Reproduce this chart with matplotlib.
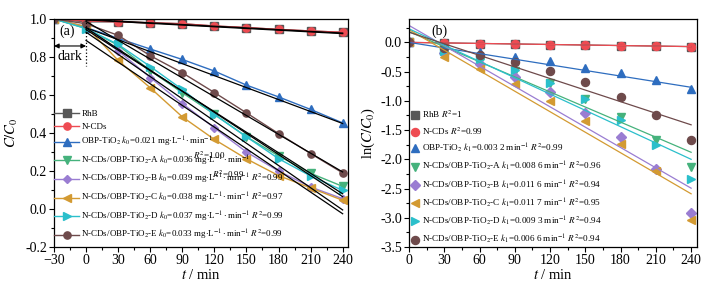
import numpy as np
import matplotlib.pyplot as plt
from matplotlib.ticker import MultipleLocator

plt.rcParams['font.family'] = ['Liberation Serif', 'DejaVu Serif']
plt.rcParams['mathtext.fontset'] = 'stix'

# ---- data ----
t_a = [-30, 0, 30, 60, 90, 120, 150, 180, 210, 240]
t_b = [0, 30, 60, 90, 120, 150, 180, 210, 240]

colors = ['#575757', '#EE4B52', '#2E6DBF', '#45B27C', '#9A7DD2', '#D39A32', '#2BBFCB', '#6E4A4B']
markers = ['s', 'o', '^', 'v', 'D', '<', '>', 'o']

# C/C0 (panel a)
rhb_a = [1.0, 0.985, 0.985, 0.98, 0.975, 0.963, 0.955, 0.945, 0.937, 0.93]
ncd_a = [1.0, 0.99, 0.985, 0.98, 0.975, 0.963, 0.955, 0.945, 0.937, 0.93]
obp_a = [1.0, 0.955, 0.898, 0.842, 0.787, 0.726, 0.652, 0.59, 0.524, 0.453]
A_a = [1.0, 0.95, 0.862, 0.728, 0.612, 0.499, 0.38, 0.28, 0.188, 0.119]
B_a = [1.0, 0.96, 0.833, 0.692, 0.555, 0.427, 0.30, 0.20, 0.116, 0.054]
C_a = [1.0, 0.96, 0.782, 0.638, 0.485, 0.366, 0.264, 0.176, 0.111, 0.046]
D_a = [1.0, 0.95, 0.866, 0.75, 0.629, 0.497, 0.38, 0.265, 0.174, 0.098]
E_a = [1.0, 0.975, 0.914, 0.807, 0.717, 0.613, 0.506, 0.397, 0.292, 0.19]
series_a = [rhb_a, ncd_a, obp_a, A_a, B_a, C_a, D_a, E_a]

# zero-order fits (slope k0/10, intercept), t = 0..240
k0 = [0.0003, 0.0003, 0.0021, 0.0036, 0.0039, 0.0038, 0.0037, 0.0033]
b0 = [0.998, 0.995, 0.954, 0.944, 0.931, 0.887, 0.953, 0.987]

# ln(C/C0) (panel b)
rhb_b = [0.0, -0.01, -0.02, -0.025, -0.04, -0.045, -0.055, -0.065, -0.075]
ncd_b = [0.0, -0.01, -0.02, -0.025, -0.04, -0.045, -0.055, -0.065, -0.075]
obp_b = [0.0, -0.11, -0.171, -0.245, -0.325, -0.433, -0.53, -0.65, -0.79]
A_b = [0.0, -0.13, -0.32, -0.49, -0.69, -0.97, -1.27, -1.67, -2.14]
B_b = [0.0, -0.18, -0.37, -0.59, -0.85, -1.2, -1.62, -2.16, -2.92]
C_b = [0.0, -0.25, -0.45, -0.72, -1.0, -1.34, -1.73, -2.2, -3.03]
D_b = [0.0, -0.15, -0.29, -0.47, -0.70, -0.97, -1.33, -1.75, -2.33]
E_b = [0.0, -0.09, -0.21, -0.33, -0.49, -0.68, -0.93, -1.24, -1.67]
series_b = [rhb_b, ncd_b, obp_b, A_b, B_b, C_b, D_b, E_b]

# first-order fits
k1 = [0.0003, 0.0003, 0.0032, 0.0086, 0.0116, 0.0117, 0.0093, 0.0066]
b1 = [0.0, 0.0, 0.0, 0.184, 0.29, 0.218, 0.232, 0.174]

labels_a = ['RhB', 'N-CDs',
            'OBP-TiO$_2$ $k_0$=0.021 mg$\\cdot$L$^{-1}\\cdot$min$^{-1}$',
            'N-CDs/OBP-TiO$_2$-A $k_0$=0.036 mg$\\cdot$L$^{-1}\\cdot$min$^{-1}$',
            'N-CDs/OBP-TiO$_2$-B $k_0$=0.039 mg$\\cdot$L$^{-1}\\cdot$min$^{-1}$ $R^2$=0.99',
            'N-CDs/OBP-TiO$_2$-C $k_0$=0.038 mg$\\cdot$L$^{-1}\\cdot$min$^{-1}$ $R^2$=0.97',
            'N-CDs/OBP-TiO$_2$-D $k_0$=0.037 mg$\\cdot$L$^{-1}\\cdot$min$^{-1}$ $R^2$=0.99',
            'N-CDs/OBP-TiO$_2$-E $k_0$=0.033 mg$\\cdot$L$^{-1}\\cdot$min$^{-1}$ $R^2$=0.99']
labels_b = ['RhB $R^2$=1', 'N-CDs $R^2$=0.99',
            'OBP-TiO$_2$ $k_1$=0.003 2 min$^{-1}$ $R^2$=0.99',
            'N-CDs/OBP-TiO$_2$-A $k_1$=0.008 6 min$^{-1}$ $R^2$=0.96',
            'N-CDs/OBP-TiO$_2$-B $k_1$=0.011 6 min$^{-1}$ $R^2$=0.94',
            'N-CDs/OBP-TiO$_2$-C $k_1$=0.011 7 min$^{-1}$ $R^2$=0.95',
            'N-CDs/OBP-TiO$_2$-D $k_1$=0.009 3 min$^{-1}$ $R^2$=0.94',
            'N-CDs/OBP-TiO$_2$-E $k_1$=0.006 6 min$^{-1}$ $R^2$=0.94']

fig = plt.figure(figsize=(7.17, 2.85), dpi=100)
ax1 = fig.add_axes([54 / 717, 38 / 285, 294 / 717, 228 / 285])
ax2 = fig.add_axes([409 / 717, 38 / 285, 288 / 717, 228 / 285])

# ---- panel (a) ----
for i in range(len(series_a)):
    ax1.plot(t_a, series_a[i], color=colors[i], marker=markers[i], ms=5.2 if markers[i] != 'D' else 4.4,
             lw=1.0, label=labels_a[i])
tt = np.array([0, 240])
for i in range(len(k0)):
    ax1.plot(tt, b0[i] - k0[i] * tt, color='black', lw=0.9)

ax1.set_xlim(-30, 245)
ax1.set_ylim(-0.2, 1.0)
ax1.xaxis.set_major_locator(MultipleLocator(30))
ax1.xaxis.set_minor_locator(MultipleLocator(15))
ax1.yaxis.set_major_locator(MultipleLocator(0.2))
ax1.yaxis.set_minor_locator(MultipleLocator(0.1))
ax1.set_xlabel('$t$ / min', fontsize=10.5, labelpad=1)
ax1.set_ylabel('$C/C_0$', fontsize=10.5, labelpad=4)
ax1.text(-18, 0.935, '(a)', ha='center', va='center', fontsize=10)
ax1.annotate('', xy=(-30, 0.858), xytext=(0, 0.858),
             arrowprops=dict(arrowstyle='<|-|>', color='black', lw=0.8, mutation_scale=7,
                             shrinkA=0, shrinkB=0))
ax1.text(-15, 0.80, 'dark', ha='center', va='center', fontsize=10)
ax1.plot([0, 0], [1.0, 0.755], color='black', ls=':', lw=0.9)
ax1.text(131, 0.284, '$R^2$=1.00', ha='right', va='center', fontsize=6.5)
ax1.text(148, 0.184, '$R^2$=0.99', ha='right', va='center', fontsize=6.5)
ax1.legend(loc='upper left', bbox_to_anchor=(0.0, 0.603), frameon=False, fontsize=6.5,
           handlelength=2.8, handletextpad=0.22, labelspacing=0.5, borderaxespad=0, borderpad=0)

# ---- panel (b) ----
for i in range(len(series_b)):
    ax2.plot(t_b, series_b[i], ls='none', color=colors[i], marker=markers[i],
             ms=5.8 if markers[i] != 'D' else 4.8, label=labels_b[i])
for i in range(len(k1)):
    ax2.plot(tt, b1[i] - k1[i] * tt, color=colors[i], lw=0.9)

ax2.set_xlim(0, 245)
ax2.set_ylim(-3.5, 0.4)
ax2.xaxis.set_major_locator(MultipleLocator(30))
ax2.xaxis.set_minor_locator(MultipleLocator(15))
ax2.yaxis.set_major_locator(MultipleLocator(0.5))
ax2.yaxis.set_minor_locator(MultipleLocator(0.25))
ax2.set_xlabel('$t$ / min', fontsize=10.5, labelpad=1)
ax2.set_ylabel('ln($C/C_0$)', fontsize=10.5, labelpad=2)
ax2.text(26, 0.19, '(b)', ha='center', va='center', fontsize=10)
ax2.legend(loc='upper left', bbox_to_anchor=(0.0, 0.605), frameon=False, fontsize=6.6,
           handlelength=1.2, handletextpad=0.2, labelspacing=0.54, borderaxespad=0, borderpad=0)

for ax in [ax1, ax2]:
    ax.tick_params(which='both', direction='out', labelsize=10, width=0.8, pad=1.5)
    ax.tick_params(which='major', length=3.5)
    ax.tick_params(which='minor', length=2)
    for s in ax.spines.values():
        s.set_linewidth(0.9)
    ax.yaxis.set_major_formatter(plt.FuncFormatter(lambda v, p: '%.1f' % v))

fig.savefig('out.png', dpi=100)
